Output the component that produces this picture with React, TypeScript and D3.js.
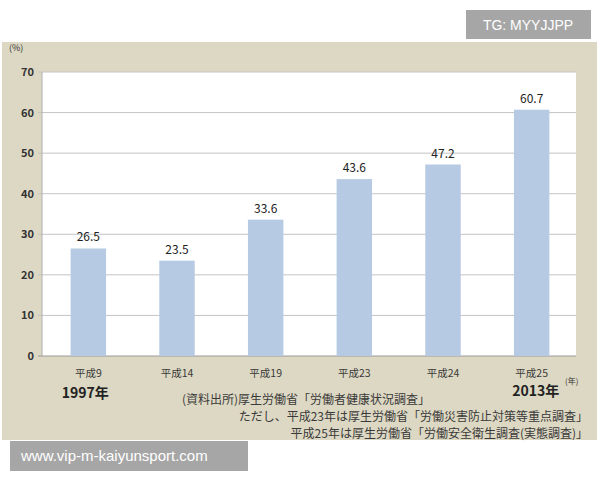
import * as d3 from "d3";
import React, { useEffect, useRef } from "react";

const categories = ["平成9", "平成14", "平成19", "平成23", "平成24", "平成25"];
const values = [26.5, 23.5, 33.6, 43.6, 47.2, 60.7];
const yTicks = [0, 10, 20, 30, 40, 50, 60, 70];
const notes = [
  "(資料出所)厚生労働省「労働者健康状況調査」",
  "ただし、平成23年は厚生労働省「労働災害防止対策等重点調査」",
  "平成25年は厚生労働省「労働安全衛生調査(実態調査)」",
];

const FONT = "'Noto Sans CJK JP', 'Noto Sans', sans-serif";

const App = () => {
  const svgRef = useRef<SVGSVGElement>(null);

  useEffect(() => {
    const width = 600;
    const height = 480;
    const margin = { top: 72, right: 24, bottom: 124, left: 42 };
    const svg = d3.select(svgRef.current);
    svg.selectAll("*").remove();

    // beige panel
    svg.append("rect")
      .attr("x", 2).attr("y", 42).attr("width", 595).attr("height", 398)
      .attr("fill", "#ddd8c3");

    const x = d3.scaleBand()
      .domain(categories)
      .range([margin.left + 2, width - margin.right])
      .paddingInner(0.6)
      .paddingOuter(0.3);

    const y = d3.scaleLinear()
      .domain([0, 70])
      .range([height - margin.bottom, margin.top]);

    // white plot area
    svg.append("rect")
      .attr("x", margin.left).attr("y", y(70))
      .attr("width", width - margin.right - margin.left)
      .attr("height", y(0) - y(70))
      .attr("fill", "#ffffff");

    // gridlines
    svg.append("g")
      .selectAll("line")
      .data(yTicks)
      .enter()
      .append("line")
      .attr("x1", margin.left - 4)
      .attr("x2", width - margin.right)
      .attr("y1", d => y(d))
      .attr("y2", d => y(d))
      .attr("stroke", d => (d === 0 ? "#9a9a9a" : "#c4c4c4"))
      .attr("stroke-width", 1);

    svg.append("line")
      .attr("x1", margin.left).attr("x2", margin.left)
      .attr("y1", y(70)).attr("y2", y(0))
      .attr("stroke", "#b0b0b0");

    // y tick labels
    svg.append("g")
      .selectAll("text")
      .data(yTicks)
      .enter()
      .append("text")
      .attr("x", margin.left - 8)
      .attr("y", d => y(d) + 4)
      .attr("text-anchor", "end")
      .attr("font-family", FONT)
      .attr("font-size", 11)
      .attr("font-weight", "bold")
      .attr("fill", "#333")
      .text(d => d);

    svg.append("text")
      .attr("x", 9).attr("y", 51)
      .attr("font-family", FONT).attr("font-size", 9).attr("fill", "#333")
      .text("(%)");

    // bars
    svg.append("g")
      .selectAll("rect")
      .data(values)
      .enter()
      .append("rect")
      .attr("x", (d, i) => x(categories[i]))
      .attr("y", d => y(d))
      .attr("width", x.bandwidth())
      .attr("height", d => y(0) - y(d))
      .attr("fill", "#b7cae3");

    // value labels
    svg.append("g")
      .selectAll("text")
      .data(values)
      .enter()
      .append("text")
      .attr("x", (d, i) => x(categories[i]) + x.bandwidth() / 2)
      .attr("y", d => y(d) - 7)
      .attr("text-anchor", "middle")
      .attr("font-family", FONT)
      .attr("font-size", 12)
      .attr("fill", "#222")
      .text(d => d.toFixed(1));

    // category labels
    svg.append("g")
      .selectAll("text")
      .data(categories)
      .enter()
      .append("text")
      .attr("x", d => x(d) + x.bandwidth() / 2)
      .attr("y", y(0) + 21)
      .attr("text-anchor", "middle")
      .attr("font-family", FONT)
      .attr("font-size", 10.5)
      .attr("fill", "#3a3a3a")
      .text(d => d);

    const first = x(categories[0]) + x.bandwidth() / 2;
    const last = x(categories[categories.length - 1]) + x.bandwidth() / 2;

    svg.append("text")
      .attr("x", first - 3).attr("y", 398)
      .attr("text-anchor", "middle")
      .attr("font-family", FONT).attr("font-size", 14).attr("font-weight", "bold")
      .attr("fill", "#222")
      .text("1997年");

    svg.append("text")
      .attr("x", last + 4).attr("y", 396)
      .attr("text-anchor", "middle")
      .attr("font-family", FONT).attr("font-size", 14).attr("font-weight", "bold")
      .attr("fill", "#222")
      .text("2013年");

    svg.append("text")
      .attr("x", 565).attr("y", 384)
      .attr("font-family", FONT).attr("font-size", 8).attr("fill", "#333")
      .text("(年)");

    // source notes
    svg.append("text")
      .attr("x", 182).attr("y", 404)
      .attr("font-family", FONT).attr("font-size", 12).attr("fill", "#3a3a3a")
      .text(notes[0]);
    svg.append("text")
      .attr("x", 588).attr("y", 421)
      .attr("text-anchor", "end")
      .attr("font-family", FONT).attr("font-size", 12).attr("fill", "#3a3a3a")
      .text(notes[1]);
    svg.append("text")
      .attr("x", 588).attr("y", 438)
      .attr("text-anchor", "end")
      .attr("font-family", FONT).attr("font-size", 12).attr("fill", "#3a3a3a")
      .text(notes[2]);

    // watermark boxes
    svg.append("rect")
      .attr("x", 466).attr("y", 10).attr("width", 125).attr("height", 29)
      .attr("fill", "#a6a6a6");
    svg.append("text")
      .attr("x", 528).attr("y", 30)
      .attr("text-anchor", "middle")
      .attr("font-family", "'Liberation Sans', Arial, sans-serif")
      .attr("font-size", 14).attr("fill", "#ffffff")
      .text("TG: MYYJJPP");

    svg.append("rect")
      .attr("x", 10).attr("y", 441).attr("width", 238).attr("height", 30)
      .attr("fill", "#a6a6a6");
    svg.append("text")
      .attr("x", 21).attr("y", 461)
      .attr("font-family", "'Liberation Sans', Arial, sans-serif")
      .attr("font-size", 15).attr("fill", "#ffffff")
      .text("www.vip-m-kaiyunsport.com");
  }, []);

  return (
    <svg
      ref={svgRef}
      width={600}
      height={480}
      style={{ position: "absolute", left: 0, top: 0, background: "#ffffff" }}
    />
  );
};

export default App;
